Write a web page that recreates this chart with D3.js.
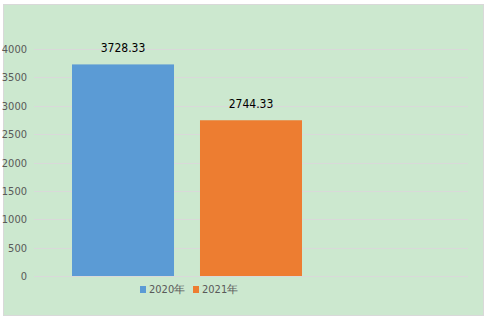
<!DOCTYPE html>
<html>
<head>
<meta charset="utf-8">
<script src="https://cdn.jsdelivr.net/npm/d3@7"></script>
<style>
  body { margin: 0; background: #fff; }
  text { font-family: "Liberation Sans Narrow", "DejaVu Sans Condensed", "Liberation Sans", sans-serif; }
</style>
</head>
<body>
<div id="viz"></div>
<script>
// Chart data
const years = ["2020年", "2021年"];
const values = [3728.33, 2744.33];
const colors = ["#5B9BD5", "#ED7D31"];
const yTicks = [0, 500, 1000, 1500, 2000, 2500, 3000, 3500, 4000];

const width = 488;
const height = 322;

const svg = d3.select("#viz")
    .append("svg")
    .attr("width", width)
    .attr("height", height);

// Chart area background
svg.append("rect")
    .attr("x", 3.5)
    .attr("y", 4.5)
    .attr("width", 480)
    .attr("height", 311)
    .attr("fill", "#CCE8CF")
    .attr("stroke", "#D9D9D9");

// Scales
const yScale = d3.scaleLinear()
    .domain([0, 4000])
    .range([276, 49]);

const xScale = d3.scaleBand()
    .domain(years)
    .range([72, 302])
    .paddingInner(0.203)
    .paddingOuter(0);

// Gridlines
svg.append("g")
    .selectAll("line")
    .data(yTicks)
    .enter().append("line")
    .attr("x1", 34)
    .attr("x2", 468)
    .attr("y1", d => Math.round(yScale(d)) + 0.5)
    .attr("y2", d => Math.round(yScale(d)) + 0.5)
    .attr("stroke", "#D9D9D9")
    .attr("stroke-width", 1);

// Y axis labels
const yAxis = svg.append("g")
    .attr("transform", "translate(27,0)")
    .call(d3.axisLeft(yScale).tickValues(yTicks).tickFormat(d3.format("d")).tickSize(0).tickPadding(0));
yAxis.select(".domain").remove();
yAxis.selectAll("text")
    .attr("fill", "#595959")
    .attr("font-size", "11px")
    .style("font-family", "'Liberation Sans Narrow', 'DejaVu Sans Condensed', sans-serif");

// Bars
svg.selectAll(".bar")
    .data(values)
    .enter().append("rect")
    .attr("class", "bar")
    .attr("x", (d, i) => xScale(years[i]))
    .attr("y", d => yScale(d))
    .attr("width", xScale.bandwidth())
    .attr("height", d => yScale(0) - yScale(d))
    .attr("fill", (d, i) => colors[i]);

// Value labels
svg.selectAll(".label")
    .data(values)
    .enter().append("text")
    .attr("class", "label")
    .attr("x", (d, i) => xScale(years[i]) + xScale.bandwidth() / 2)
    .attr("y", d => yScale(d) - 12)
    .attr("text-anchor", "middle")
    .attr("font-size", "12px")
    .attr("fill", "#000")
    .text(d => d.toFixed(2));

// Legend
const legend = svg.append("g");
const legendX = [140, 193];
years.forEach((y, i) => {
    legend.append("rect")
        .attr("x", legendX[i])
        .attr("y", 286)
        .attr("width", 6)
        .attr("height", 7)
        .attr("fill", colors[i]);
    legend.append("text")
        .attr("x", legendX[i] + 9)
        .attr("y", 293)
        .attr("font-size", "11px")
        .attr("fill", "#595959")
        .text(y);
});
</script>
</body>
</html>
